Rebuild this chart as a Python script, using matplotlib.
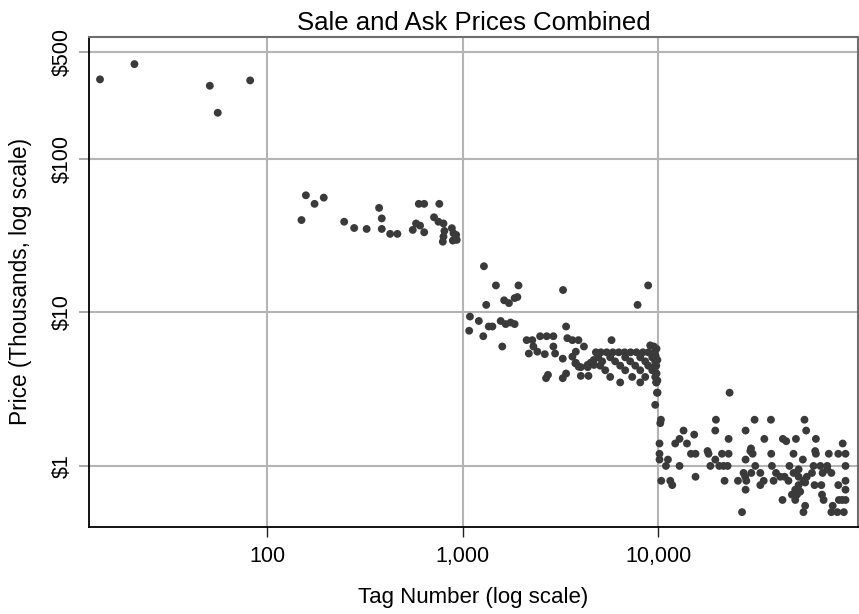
import numpy as np
import matplotlib
matplotlib.use('Agg')
import matplotlib.pyplot as plt

plt.rcParams['font.family'] = ['Liberation Sans', 'DejaVu Sans']

# tags < 100
top_tags = [14, 21, 51, 56, 82]
top_prices = [330, 415, 300, 200, 325]

# tags 100 - 1,000
mid_tags = [150, 158, 175, 195, 248, 279, 323, 374, 386, 386, 426, 464, 556, 578, 606,
            636, 597, 636, 760, 714, 752, 798, 807, 798, 792, 881, 898, 927, 891, 933]
mid_prices = [40, 58, 51, 56, 39, 35.5, 35, 48, 41, 35, 32.5, 32.5, 34.5, 38, 36.8,
              33.3, 51, 51, 51, 41.7, 39, 38, 34, 31.2, 28.9, 35.4, 32.8, 32, 29.4, 29.7]

# tags 1,000 - 10,000
k_tags = [1285, 1480, 1930, 3260, 8880, 1320, 1630, 1725, 1845, 1905, 7840,
          1090, 1210, 1080, 1360, 1420, 1275, 1565, 1660, 1760, 1845, 1595, 3380,
          2125, 2270, 2490, 2690, 2910, 2300, 2410, 2180, 2630, 2910, 2970, 3250,
          3430, 3640, 3910, 4170, 3790, 3640, 3770, 3920, 4350, 4690, 5770,
          2730, 2670, 3380, 3250, 4020, 4400,
          3790, 4020, 4360, 4510, 4680,
          9100, 9850, 9900, 9500, 9800, 9700, 9900, 9600, 9800,
          4800, 5090, 5450, 5860, 6280, 6730, 7220, 7740, 8350, 8900, 9600,
          4930, 5680, 6780, 8090, 9320,
          5170, 6020, 7190, 8580, 9650,
          5050, 6390, 7630, 8890, 9770,
          5360, 6780, 8090, 9320,
          5680, 7360, 8580, 9650,
          6390, 8090, 9770]
k_prices = [20, 15, 15, 14, 15, 11.2, 12, 11.5, 12.4, 12.6, 11.2,
            9.4, 8.8, 7.6, 8.1, 8.1, 7.0, 8.8, 8.4, 8.6, 8.4, 6.0, 8.1,
            6.6, 6.6, 7.0, 7.0, 7.0, 6.0, 5.55, 5.4, 5.35, 6.0, 5.4, 5.0,
            6.8, 6.6, 6.6, 6.0, 5.55, 5.15, 4.66, 4.43, 4.55, 4.55, 6.6,
            3.92, 3.73, 4.0, 3.73, 3.86, 3.86,
            4.7, 4.4, 4.4, 4.7, 4.9,
            6.1, 3.0, 3.6, 6.0, 5.8, 5.2, 4.9, 4.4, 4.0,
            5.5, 5.5, 5.5, 5.5, 5.5, 5.5, 5.5, 5.5, 5.5, 5.5, 5.5,
            5.1, 5.1, 5.1, 5.1, 5.1,
            4.8, 4.8, 4.8, 4.8, 4.8,
            4.5, 4.5, 4.5, 4.5, 4.5,
            4.2, 4.2, 4.2, 4.2,
            3.8, 3.8, 3.8, 3.8,
            3.5, 3.5, 3.5]

# tags > 10,000
hi_tags = [9770, 9920, 9650, 10320, 10240, 10150, 10150, 10150, 11210, 10950, 10360,
           11520, 11790, 12850, 12210, 12850, 13470, 14020, 15270, 15510, 14700, 15510,
           17870, 18080, 18470, 19570, 19720, 19570, 20510, 21170, 21830, 21580, 22890,
           22630, 22890, 23160, 25560, 26810, 27960, 27960, 27300, 28190, 27960, 29570,
           31080, 37680, 55920, 57040, 34860, 43360, 45100, 50570, 63960, 87710, 29800,
           30370, 37810, 49150, 63440, 63960, 74470, 83270, 90640, 54860, 31340, 38120,
           46850, 52190, 62220, 67410, 73080, 90640, 27840, 29910, 33250, 34600, 33250,
           40000, 42050, 44220, 46300, 49150, 52190, 55250, 57500, 61080, 69240, 76760,
           73080, 38870, 52190, 56370, 62950, 68190, 90640, 83270, 90640, 50160, 48230,
           68740, 70030, 43170, 83840, 90640, 87120, 50160, 56370, 55250, 77940, 76760,
           82310, 88880, 51160, 53160]
hi_prices = [3.5, 3.0, 2.5, 2.0, 1.9, 1.4, 1.2, 1.1, 1.1, 1.0, 0.8,
             0.8, 0.75, 1.0, 1.4, 1.5, 1.7, 1.4, 1.6, 0.85, 1.2, 1.2,
             1.25, 1.2, 1.0, 1.1, 2.0, 1.7, 1.0, 1.2, 0.8, 1.0, 1.2,
             1.0, 1.5, 3.0, 0.8, 0.5, 1.7, 1.1, 0.9, 0.8, 0.7, 1.25,
             2.0, 2.0, 2.0, 1.7, 1.5, 1.5, 1.45, 1.5, 1.5, 1.4, 1.3,
             1.2, 1.2, 1.2, 1.25, 1.2, 1.2, 1.2, 1.2, 1.1, 1.0, 1.0,
             1.0, 0.95, 1.0, 1.0, 1.0, 1.0, 0.85, 0.9, 0.9, 0.8, 0.75,
             0.9, 0.85, 0.85, 0.8, 0.9, 0.85, 0.8, 0.85, 0.9, 0.9, 0.9,
             0.95, 0.8, 0.75, 0.78, 0.75, 0.75, 0.8, 0.75, 0.7, 0.7, 0.65,
             0.65, 0.6, 0.6, 0.6, 0.6, 0.6, 0.6, 0.55, 0.5, 0.55, 0.5,
             0.5, 0.5, 0.65, 0.68]

x_ticks = [100, 1000, 10000]
x_labels = ['100', '1,000', '10,000']
y_ticks = [1, 10, 100, 500]
y_labels = ['$1', '$10', '$100', '$500']

tags = np.array(top_tags + mid_tags + k_tags + hi_tags, dtype=float)
prices = np.array(top_prices + mid_prices + k_prices + hi_prices, dtype=float)

W, H = 859, 614
fig = plt.figure(figsize=(W / 100, H / 100), dpi=100)
ax = fig.add_axes([89 / W, (H - 527) / H, (858 - 89) / W, (527 - 36.5) / H])

ax.set_xscale('log')
ax.set_yscale('log')
ax.set_xlim(12.3, 105000)
ax.set_ylim(0.40, 628)

grid_col = '#b4b4b4'
for t in x_ticks:
    ax.axvline(t, color=grid_col, lw=1.5, zorder=1)
for t in y_ticks:
    ax.axhline(t, color=grid_col, lw=1.5, zorder=1)

ax.scatter(tags, prices, s=32, color='#3a3a3a', edgecolors='none', zorder=3)

ax.set_xticks(x_ticks)
ax.set_xticklabels(x_labels)
ax.set_yticks(y_ticks)
ax.set_yticklabels(y_labels, rotation=90, va='center')
ax.minorticks_off()
ax.tick_params(axis='x', length=7, width=1, color='#222222', labelsize=15.5, pad=7)
ax.tick_params(axis='y', length=7, width=1.2, color='#999999', labelsize=15.5, pad=5)

for side in ['left', 'bottom']:
    ax.spines[side].set_color('black')
    ax.spines[side].set_linewidth(1.3)
for side in ['top', 'right']:
    ax.spines[side].set_color('#6e6e6e')
    ax.spines[side].set_linewidth(1.5)

ax.set_title('Sale and Ask Prices Combined', fontsize=18.5, pad=5)
ax.set_xlabel('Tag Number (log scale)', fontsize=16, labelpad=14)
ax.set_ylabel('Price (Thousands, log scale)', fontsize=16.3, labelpad=14)

fig.savefig('out.png', dpi=100)
